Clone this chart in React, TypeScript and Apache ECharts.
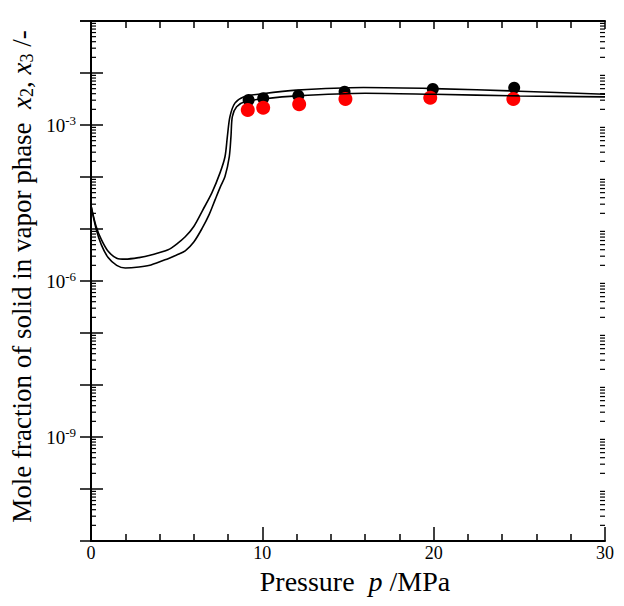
import React, { useEffect, useRef } from "react";
import * as echarts from "echarts";

// Model curves (pressure in MPa, mole fraction)
const curveUpperP = [0, 0.3, 0.6, 1.0, 1.5, 2.0, 2.8, 3.5, 4.5, 5.0, 5.5, 6.0, 6.5, 7.06, 7.53, 7.82, 7.96, 8.11, 8.4, 8.9, 10, 12, 15.9, 20, 25, 30];
const curveUpperX = [2.82e-5, 1.12e-5, 6.31e-6, 3.72e-6, 2.75e-6, 2.63e-6, 2.82e-6, 3.16e-6, 3.98e-6, 5.13e-6, 7.08e-6, 1.12e-5, 2.24e-5, 5.01e-5, 1.2e-4, 2.45e-4, 6.03e-4, 1.45e-3, 2.63e-3, 3.47e-3, 3.98e-3, 4.68e-3, 5.25e-3, 5.01e-3, 4.47e-3, 3.89e-3];

const curveLowerP = [0, 0.3, 0.6, 1.0, 1.5, 2.0, 2.8, 3.5, 4.5, 5.0, 5.5, 6.0, 6.5, 6.9, 7.24, 7.55, 7.82, 8.07, 8.17, 8.25, 8.5, 9.0, 10, 12, 16, 20, 25, 30];
const curveLowerX = [2.82e-5, 1.0e-5, 5.01e-6, 2.82e-6, 2.0e-6, 1.78e-6, 1.86e-6, 2.04e-6, 2.69e-6, 3.16e-6, 3.8e-6, 5.62e-6, 1.05e-5, 1.91e-5, 3.63e-5, 6.46e-5, 1.02e-4, 2.45e-4, 6.03e-4, 1.45e-3, 2.24e-3, 2.82e-3, 3.16e-3, 3.63e-3, 4.07e-3, 3.89e-3, 3.63e-3, 3.47e-3];

// Experimental points
const blackP = [9.2, 10.05, 12.1, 14.8, 19.95, 24.7];
const blackX = [3.03e-3, 3.26e-3, 3.66e-3, 4.37e-3, 4.92e-3, 5.21e-3];
const redP = [9.15, 10.05, 12.15, 14.85, 19.8, 24.65];
const redX = [1.94e-3, 2.15e-3, 2.5e-3, 3.16e-3, 3.35e-3, 3.16e-3];

// Axis settings
const labelledExponents = [-3, -6, -9];
const decades = [-11, -10, -9, -8, -7, -6, -5, -4, -3, -2];
const minorMultipliers = [2, 3, 4, 5, 6, 7, 8, 9];

const FONT = "Liberation Serif";

function zip(a: number[], b: number[]) {
  return a.map((v, i) => [v, b[i]]);
}

export default function App() {
  const ref = useRef<HTMLDivElement>(null);
  useEffect(() => {
    if (!ref.current) return;
    const chart = echarts.init(ref.current, undefined, { renderer: "svg" });
    const minorVals: number[][] = [];
    decades.forEach((d) => minorMultipliers.forEach((m) => minorVals.push([m * Math.pow(10, d)])));

    const yCommon = {
      type: "log" as const,
      logBase: 10,
      min: 1e-11,
      max: 1e-1,
      interval: 1,
      axisLine: { show: true, lineStyle: { color: "#000", width: 2 } },
      axisTick: { show: true, inside: true, length: 12, lineStyle: { color: "#000", width: 1.5 } },
      splitLine: { show: false },
      minorTick: { show: false },
    };
    const xCommon = {
      type: "value" as const,
      min: 0,
      max: 30,
      interval: 10,
      axisLine: { show: true, onZero: false, lineStyle: { color: "#000", width: 2 } },
      axisTick: { show: true, inside: true, length: 14, lineStyle: { color: "#000", width: 1.5 } },
      minorTick: { show: true, splitNumber: 5, length: 7, lineStyle: { color: "#000", width: 1.5 } },
      splitLine: { show: false },
      minorSplitLine: { show: false },
    };

    chart.setOption({
      animation: false,
      backgroundColor: "#fff",
      textStyle: { fontFamily: FONT },
      grid: { left: 91, right: 19, top: 21, bottom: 65, containLabel: false },
      xAxis: [
        {
          ...xCommon,
          position: "bottom",
          axisLabel: { show: true, fontFamily: FONT, fontSize: 18, lineHeight: 14, color: "#000", margin: 5 },
          name: "{n|Pressure  }{i|p}{n| /MPa}",
          nameLocation: "middle",
          nameGap: 31,
          nameMoveOverlap: false,
          nameTextStyle: {
            fontFamily: FONT,
            padding: [0, 0, 0, 14],
            rich: {
              n: { fontFamily: FONT, fontSize: 28, lineHeight: 18, color: "#000" },
              i: { fontFamily: FONT, fontSize: 28, lineHeight: 18, color: "#000", fontStyle: "italic" },
            },
          },
        },
        { ...xCommon, position: "top", axisLabel: { show: false }, axisTick: { ...xCommon.axisTick, length: 8 } },
      ],
      yAxis: [
        {
          ...yCommon,
          position: "left",
          axisLabel: {
            show: true,
            margin: 15,
            formatter: (v: number) => {
              const e = Math.round(Math.log10(v));
              return labelledExponents.includes(e) ? `{b|10}{s|${e}}` : "";
            },
            rich: {
              b: { fontFamily: FONT, fontSize: 19, color: "#000" },
              s: { fontFamily: FONT, fontSize: 13, color: "#000", padding: [0, 0, 10, 0] },
            },
          },
          name: "{n|Mole fraction of solid in vapor phase  }{i|x}{d|2}{n|, }{i|x}{d|3}{n| /-}",
          nameLocation: "middle",
          nameGap: 55,
          nameRotate: 90,
          nameMoveOverlap: false,
          nameTextStyle: {
            fontFamily: FONT,
            padding: [0, 0, 0, 9],
            rich: {
              n: { fontFamily: FONT, fontSize: 27, color: "#000" },
              i: { fontFamily: FONT, fontSize: 27, color: "#000", fontStyle: "italic" },
              d: { fontFamily: FONT, fontSize: 18, color: "#000", padding: [11, 0, 0, 0] },
            },
          },
        },
        { ...yCommon, position: "right", axisLabel: { show: false }, axisTick: { ...yCommon.axisTick, length: 11 } },
      ],
      series: [
        {
          type: "custom",
          xAxisIndex: 0,
          yAxisIndex: 0,
          silent: true,
          clip: false,
          data: minorVals,
          encode: { y: 0 },
          renderItem: (params: any, api: any) => {
            const v = api.value(0);
            const l = api.coord([0, v]);
            const r = api.coord([30, v]);
            return {
              type: "group",
              children: [
                { type: "line", shape: { x1: l[0], y1: l[1], x2: l[0] + 5, y2: l[1] }, style: { stroke: "#000", lineWidth: 1.2 } },
                { type: "line", shape: { x1: r[0], y1: r[1], x2: r[0] - 5, y2: r[1] }, style: { stroke: "#000", lineWidth: 1.2 } },
              ],
            };
          },
        },
        {
          type: "line",
          data: zip(curveUpperP, curveUpperX),
          showSymbol: false,
          smooth: 0.3,
          lineStyle: { color: "#000", width: 1.6 },
        },
        {
          type: "line",
          data: zip(curveLowerP, curveLowerX),
          showSymbol: false,
          smooth: 0.3,
          lineStyle: { color: "#000", width: 1.6 },
        },
        {
          type: "scatter",
          data: zip(blackP, blackX),
          symbolSize: 12,
          itemStyle: { color: "#000", opacity: 1 },
        },
        {
          type: "scatter",
          data: zip(redP, redX),
          symbolSize: 14,
          itemStyle: { color: "#ff0000", opacity: 1 },
        },
      ],
    });
    return () => chart.dispose();
  }, []);
  return <div ref={ref} style={{ position: "fixed", left: 0, top: 0, width: 624, height: 606 }} />;
}
